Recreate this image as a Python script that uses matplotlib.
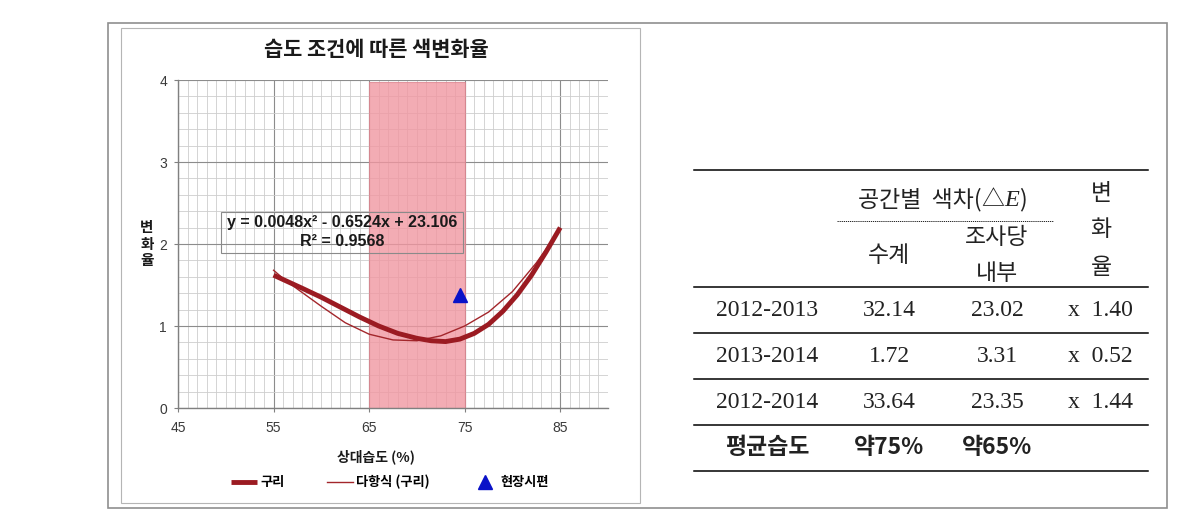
import matplotlib
matplotlib.use("Agg")
import matplotlib.pyplot as plt
from matplotlib.lines import Line2D
from matplotlib.patches import Rectangle
from matplotlib.ticker import MultipleLocator

plt.rcParams['font.family'] = ['Noto Sans CJK KR', 'DejaVu Sans']

# ---- 데이터 ----
title = "습도 조건에 따른 색변화율"
x_label = "상대습도 (%)"
y_label = ["변", "화", "율"]

# 구리 (측정 곡선)
copper_x = [55, 56.5, 58, 60, 62, 64, 66, 68, 70, 71.5, 73, 74.5, 76, 77.5, 79, 80.5, 82, 83.5, 85]
copper_y = [1.62, 1.54, 1.46, 1.35, 1.23, 1.11, 1.00, 0.91, 0.85, 0.82, 0.81, 0.84, 0.91, 1.02, 1.18, 1.38, 1.62, 1.90, 2.2]

# 다항식 (구리) 추세선
poly_x = [55, 56, 57.5, 60, 62.5, 65, 67.5, 70, 72.5, 75, 77.5, 80, 82.5, 85]
poly_y = [1.68, 1.58, 1.45, 1.24, 1.04, 0.90, 0.83, 0.82, 0.88, 1.00, 1.17, 1.42, 1.77, 2.18]

# 현장시편
site_x = [74.5]
site_y = [1.38]

band = (65, 75)  # 음영 구간 (상대습도)
band_top = 3.97

eq_lines = ["y = 0.0048x² - 0.6524x + 23.106", "R² = 0.9568"]
legend_labels = ["구리", "다항식 (구리)", "현장시편"]

x_ticks = [45, 55, 65, 75, 85]
y_ticks = [0, 1, 2, 3, 4]

# 표
periods = ["2012-2013", "2013-2014", "2012-2014"]
sugye = ["32.14", "1.72", "33.64"]
josadang = ["23.02", "3.31", "23.35"]
ratio = ["x  1.40", "x  0.52", "x  1.44"]
avg_humidity = ["평균습도", "약75%", "약65%"]

# ---- 그림 ----
W, H = 1194, 518
fig = plt.figure(figsize=(W / 100, H / 100), dpi=100)
fig.patch.set_facecolor("white")

ax = fig.add_axes([178 / W, 1 - 408 / H, (608 - 178) / W, (408 - 80) / H])
ax.set_xlim(45, 90)
ax.set_ylim(0, 4)
ax.set_xticks(x_ticks)
ax.set_yticks(y_ticks)
ax.xaxis.set_minor_locator(MultipleLocator(1))
ax.yaxis.set_minor_locator(MultipleLocator(0.2))
ax.grid(which="major", color="#8c8c8c", lw=0.8)
ax.grid(which="minor", color="#cdcdcd", lw=0.6)
ax.set_axisbelow(True)
for s in ["top", "right"]:
    ax.spines[s].set_visible(False)
for s in ["left", "bottom"]:
    ax.spines[s].set_color("#808080")
    ax.spines[s].set_linewidth(1.0)
ax.tick_params(which="major", length=3, color="#808080", labelsize=10,
               labelcolor="#3a3a3a")
ax.tick_params(which="minor", length=0)
ax.tick_params(axis="x", pad=6)
ax.tick_params(axis="y", pad=5)
for lab in ax.get_xticklabels() + ax.get_yticklabels():
    lab.set_family("Liberation Sans")

# 음영 구간
ax.axvspan(band[0], band[1], ymin=0, ymax=band_top / 4, facecolor="#f197a1",
           edgecolor="#dd8590", lw=0.8, alpha=0.8, zorder=2)

ln1, = ax.plot(poly_x, poly_y, color="#a3262b", lw=1.0, zorder=3)
ln0, = ax.plot(copper_x, copper_y, color="#9b1b22", lw=3.5, zorder=4,
               solid_capstyle="butt", solid_joinstyle="round")
ln2, = ax.plot(site_x, site_y, linestyle="none", marker="^", markersize=10,
               color="#0a12c8", zorder=5)

leg = ax.legend([ln0, ln1, ln2], legend_labels, ncol=3, frameon=False,
                loc="center", bbox_to_anchor=(390 / W, 1 - 482 / H),
                bbox_transform=fig.transFigure, handlelength=2.0,
                handletextpad=0.2, columnspacing=3.2,
                prop={"weight": "bold", "size": 9.5})

# ---- 픽셀 좌표 오버레이 ----
ov = fig.add_axes([0, 0, 1, 1])
ov.set_xlim(0, W)
ov.set_ylim(H, 0)
ov.axis("off")
ov.patch.set_visible(False)

ov.add_patch(Rectangle((108, 23), 1167 - 108, 508 - 23, fill=False,
                       edgecolor="#8f8f8f", lw=1.2))
ov.add_patch(Rectangle((121, 28), 640 - 121, 503 - 28, fill=False,
                       edgecolor="#b5b5b5", lw=0.8))

ov.text(376, 50, title, ha="center", va="center", fontsize=15,
        fontweight="bold", color="#1a1a1a")
for i, ch in enumerate(y_label):
    ov.text(147, 227 + i * 16.7, ch, ha="center", va="center", fontsize=10.5,
            fontweight="bold", color="#1a1a1a")
ov.text(376, 457, x_label, ha="center", va="center", fontsize=10,
        fontweight="bold", color="#1a1a1a")

# 추세식 상자
ov.add_patch(Rectangle((221, 212), 463 - 221, 253 - 212, fill=False,
                       edgecolor="#8a8a8a", lw=0.8, zorder=6))
ov.text(342, 223, eq_lines[0], ha="center", va="center", fontsize=11.5,
        fontweight="bold", family=["Liberation Sans", "DejaVu Sans"],
        color="#1a1a1a", zorder=7)
ov.text(342, 241, eq_lines[1], ha="center", va="center", fontsize=11.5,
        fontweight="bold", family=["Liberation Sans", "DejaVu Sans"],
        color="#1a1a1a", zorder=7)

# ---- 표 ----
serif = ["Liberation Serif", "Noto Sans CJK KR"]
tfs = 17
kfs = 16.5

for y in [170, 287, 333, 379, 425, 471]:
    ov.add_line(Line2D([694, 1148], [y, y], color="black", lw=1.1))
ov.add_line(Line2D([837, 1053], [221, 221], color="black", lw=0.6,
                   linestyle=(0, (1.5, 1.0))))

# 머리글: 공간별 색차(△E)
t = ov.text(858, 206, "공간별  색차(", ha="left", va="baseline", fontsize=kfs,
            color="#222222")
t = ov.annotate("△", xycoords=t, xy=(1, 0), va="bottom", fontsize=kfs,
                color="#222222")
t = ov.annotate("E", xycoords=t, xy=(1, 0), va="bottom", fontsize=kfs + 1,
                family="Liberation Serif", style="italic", color="#222222")
ov.annotate(")", xycoords=t, xy=(1, 0), va="bottom", fontsize=kfs,
            color="#222222")

ov.text(889, 255, "수계", ha="center", va="center", fontsize=kfs, color="#222222")
ov.text(997, 237, "조사당", ha="center", va="center", fontsize=kfs, color="#222222")
ov.text(997, 273, "내부", ha="center", va="center", fontsize=kfs, color="#222222")
for i, ch in enumerate(y_label):
    ov.text(1101, 193 + i * 37, ch, ha="center", va="center", fontsize=kfs,
            color="#222222")

col_x = [767, 889, 997, 1100]
for i in range(len(periods)):
    yy = 311 + i * 46
    row = [periods[i], sugye[i], josadang[i], ratio[i]]
    for cx, val in zip(col_x, row):
        ov.text(cx, yy, val, ha="center", va="center", fontsize=tfs,
                family=serif, color="#222222")

for cx, val in zip(col_x, avg_humidity):
    ov.text(cx, 447, val, ha="center", va="center", fontsize=kfs,
            fontweight="bold", color="#222222")

fig.savefig("out.png", dpi=100)
